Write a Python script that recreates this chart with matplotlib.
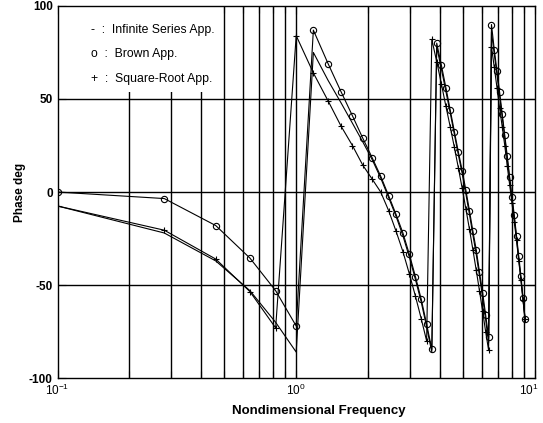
import matplotlib
matplotlib.use('Agg')
import matplotlib.pyplot as plt
import matplotlib.transforms as mtransforms
from matplotlib.patches import Rectangle
from matplotlib.ticker import LogLocator, FixedLocator

plt.rcParams['font.family'] = ['Liberation Sans', 'DejaVu Sans']
plt.rcParams['axes.unicode_minus'] = False
plt.rcParams['mathtext.fontset'] = 'custom'
plt.rcParams['mathtext.rm'] = 'Liberation Sans'

# frequencies (nondimensional)
freq = [0.10, 0.28, 0.46, 0.64, 0.82, 1.00, 1.18, 1.36, 1.54, 1.72,
        1.90, 2.08, 2.26, 2.44, 2.62, 2.80, 2.98, 3.16, 3.34, 3.52,
        3.70, 3.88, 4.06, 4.24, 4.42, 4.60, 4.78, 4.96, 5.14, 5.32,
        5.50, 5.68, 5.86, 6.04, 6.22, 6.40, 6.58, 6.76, 6.94, 7.12,
        7.30, 7.48, 7.66, 7.84, 8.02, 8.20, 8.38, 8.56, 8.74, 8.92, 9.10]

# phase (deg) for each approximation
infinite_series = [-7.5, -22, -37, -53, -70, -86, 75, 60, 48, 37,
                   27, 17.5, 7.5, -3, -13, -23.5, -35, -47, -59, -72.5,
                   -86, 78, 66, 54, 42.5, 31, 20, 10, -1, -12,
                   -23, -33.5, -45, -56.5, -68.5, -81, 86, 74, 63, 51.5,
                   40, 29, 18, 7, -4, -14, -25, -36, -46.5, -58, -69]

brown = [0, -3.5, -18, -35.5, -53, -72, 87, 69, 54, 41,
         29, 18.5, 8.5, -2, -12, -22, -33.5, -45.5, -57.5, -71,
         -84.5, 80, 68, 56, 44, 32.5, 21.5, 11.5, 1, -10,
         -21, -31, -43, -54, -66, -78, 90, 76.5, 65, 53.5,
         42, 30.5, 19.5, 8, -2.5, -12.5, -23.5, -34.5, -45, -57, -68]

square_root = [-7.5, -20.5, -36, -53.5, -73, 84, 64, 49, 35.5, 25,
               14.5, 7, 0, -10, -21, -32, -44, -56, -68, -80,
               82, 70, 58, 46, 35, 24, 13, 2, -9, -20,
               -31, -42, -53, -64, -75, -85, 78, 67, 56, 45,
               35, 25, 14, 4, -6, -16, -26, -37, -47, -58, -68]

legend_lines = ['-  :  Infinite Series App.',
                'o  :  Brown App.',
                '+  :  Square-Root App.']

fig = plt.figure(figsize=(5.43, 4.23), dpi=100)
ax = fig.add_axes([0.106, 0.106, 0.879, 0.880])

ax.set_xscale('log')
ax.set_xlim(0.1, 10)
ax.set_ylim(-100, 100)
ax.set_yticks([-100, -50, 0, 50, 100])
ax.xaxis.set_major_locator(FixedLocator([0.1, 1, 10]))
ax.xaxis.set_minor_locator(LogLocator(base=10, subs=range(2, 10)))
ax.set_xticklabels(['$10^{-1}$', '$10^{0}$', '$10^{1}$'])

# grid drawn by hand so the legend panel can sit on top of it
xgrid = [x for x in ax.xaxis.get_minorticklocs() if 0.1 < x < 10] + [1.0]
ax.vlines(xgrid, -100, 100, color='black', lw=1.0, zorder=1)
ax.hlines([-50, 0, 50], 0.1, 10, color='black', lw=1.0, zorder=1)

ax.plot(freq, infinite_series, '-', color='black', lw=0.8, zorder=3)
ax.plot(freq, brown, '-o', color='black', lw=0.8, ms=4.5, mfc='none', mew=0.8, zorder=3)
ax.plot(freq, square_root, '-+', color='black', lw=0.8, ms=5, mew=0.8, zorder=3)

ax.tick_params(which='both', direction='in', top=True, right=True,
               labelsize=8.5, width=0.8)
ax.tick_params(which='major', length=6)
ax.tick_params(which='minor', length=5)
for lab in ax.get_yticklabels() + ax.get_xticklabels():
    lab.set_fontweight('bold')
# keep the right-most label inside the canvas
last = ax.get_xticklabels()[-1]
last.set_transform(last.get_transform() +
                   mtransforms.ScaledTranslation(-6 / 100, 0, fig.dpi_scale_trans))
for s in ax.spines.values():
    s.set_linewidth(1.0)

# white legend panel hiding the grid in the upper left
ax.add_patch(Rectangle((0.0, 0.77), 0.33, 0.23, transform=ax.transAxes,
                       facecolor='white', edgecolor='none', zorder=2))
for i, txt in enumerate(legend_lines):
    ax.text(0.07, 0.935 - i * 0.065, txt, transform=ax.transAxes,
            fontsize=8.8, va='center', ha='left', zorder=4)

ax.set_xlabel('Nondimensional Frequency', fontsize=9.5, fontweight='bold')
ax.xaxis.set_label_coords(0.548, -0.072)
ax.set_ylabel('Phase deg', fontsize=8.5, fontweight='bold', labelpad=2)

fig.savefig('out.png', dpi=100)
